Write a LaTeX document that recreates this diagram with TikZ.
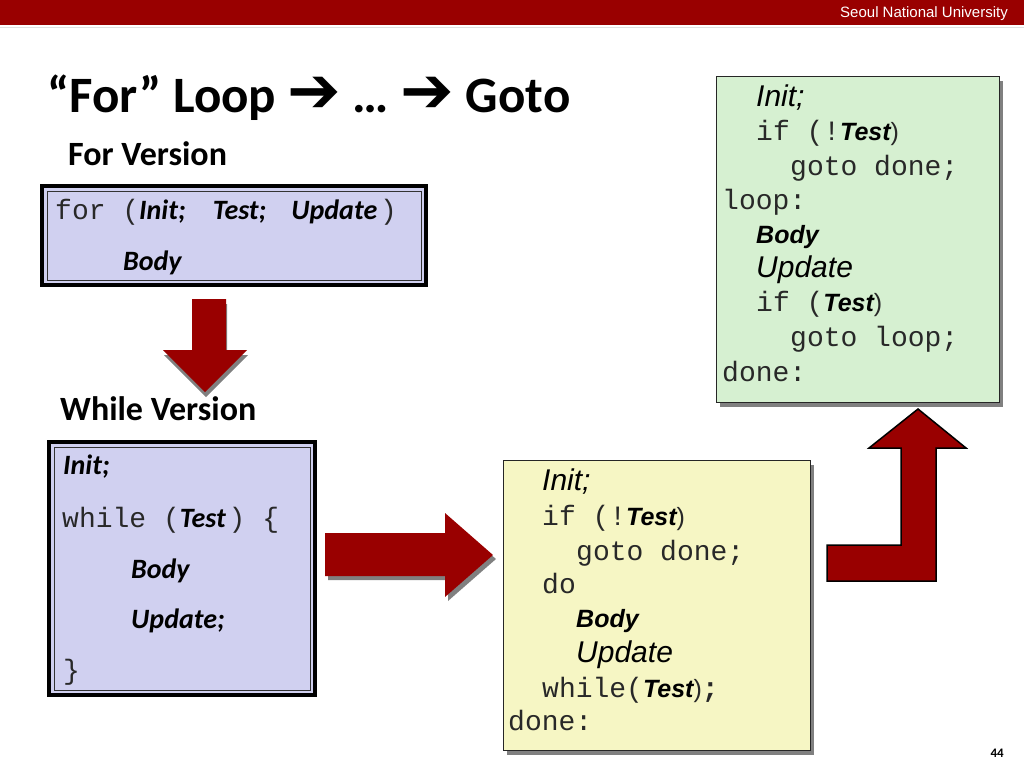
\documentclass[tikz,border=0pt]{standalone}
\usepackage{fontspec}
\setmainfont{Carlito}
\newfontfamily\codefont{Liberation Mono}
\newfontfamily\arialfont{Liberation Sans}
\newfontfamily\symfont{DejaVu Sans}
\usetikzlibrary{shadows}

\definecolor{snured}{RGB}{153,0,0}
\definecolor{lavender}{RGB}{208,208,240}
\definecolor{paleyellow}{RGB}{246,246,196}
\definecolor{palegreen}{RGB}{214,240,209}
\definecolor{shadowgray}{RGB}{128,128,128}
\definecolor{codegray}{RGB}{40,40,40}

% pieces of code text
\newcommand{\kb}[1]{{\rmfamily\bfseries\itshape\color{black}#1}}
\newcommand{\ai}[1]{{\arialfont\itshape\color{black}\fontsize{30}{32}\selectfont #1}}
\newcommand{\abi}[1]{{\arialfont\bfseries\itshape\color{black}\fontsize{25}{27}\selectfont #1}}
\newcommand{\ap}[1]{{\arialfont\fontsize{25}{27}\selectfont #1}}

\tikzset{
  codeline/.style={anchor=base west, inner sep=0pt, text=codegray, font=\codefont\fontsize{28}{30}\selectfont},
  heading/.style={anchor=base west, inner sep=0pt, font=\bfseries\fontsize{34}{36}\selectfont},
  dblbox/.style={draw, line width=4pt, fill=lavender, outer sep=0pt, anchor=north west},
  codebox/.style={draw=black!85, line width=1pt, outer sep=0pt, anchor=north west,
    drop shadow={shadow xshift=4pt, shadow yshift=-5pt, fill=shadowgray, opacity=1}},
  blockarrow/.style={fill=snured},
}

\begin{document}
\begin{tikzpicture}[x=1pt,y=-1pt]
\useasboundingbox (0,0) rectangle (1024,768);

% Header bar
\fill[snured] (0,0) rectangle (1024,25);
\draw[black!12] (0,27) -- (1024,27);
\node[anchor=base east, inner sep=0pt, text=white, font=\arialfont\fontsize{15}{16}\selectfont] (school) at (1008,18) {Seoul National University};

% Title
\node[anchor=base west, inner sep=0pt, font=\bfseries\fontsize{51}{54}\selectfont] (title) at (47,112)
  {“For” Loop {\symfont\bfseries\fontsize{64}{64}\selectfont ➔} … {\symfont\bfseries\fontsize{64}{64}\selectfont ➔} Goto};

% For version
\node[heading] (forver) at (68,165) {For Version};
\node[dblbox, minimum width=384pt, minimum height=99pt] (forbox) at (42,186) {};
\draw[line width=0.8pt, black!80] ([shift={(5,5)}]forbox.north west) rectangle ([shift={(-5,-5)}]forbox.south east);
\node[codeline] (forhead) at (55,219) {for (\kb{Init;}\hspace{27pt}\kb{Test;}\hspace{25pt}\kb{Update}\hspace{3pt})};
\node[codeline] (forbody) at (123,270) {\kb{Body}};

% Down arrow
\fill[blockarrow, drop shadow={shadow xshift=1pt, shadow yshift=-5pt, fill=shadowgray, opacity=1}]
  (192,299) -- (226,299) -- (226,350) -- (247,350) -- (205,392) -- (163,350) -- (192,350) -- cycle;

% While version
\node[heading] (whilever) at (60,420) {While Version};
\node[dblbox, minimum width=266pt, minimum height=253pt] (whilebox) at (49,442) {};
\draw[line width=0.8pt, black!80] ([shift={(5,5)}]whilebox.north west) rectangle ([shift={(-5,-5)}]whilebox.south east);
\node[codeline] (whinit) at (63,474) {\kb{Init;}};
\node[codeline] (whtest) at (62,527) {while (\kb{Test}\hspace{3pt}) \{};
\node[codeline] (whbody) at (131,578) {\kb{Body}};
\node[codeline] (whupd) at (131,628) {\kb{Update;}};
\node[codeline] (whend) at (63,679) {\}};

% Right arrow
\fill[blockarrow, drop shadow={shadow xshift=3pt, shadow yshift=-4pt, fill=shadowgray, opacity=1}]
  (325,533) -- (445,533) -- (445,513) -- (493,555) -- (445,597) -- (445,576) -- (325,576) -- cycle;

% Do-while with goto
\node[codebox, fill=paleyellow, minimum width=307pt, minimum height=290pt] (dobox) at (503,460) {};
\node[codeline] (yinit) at (542,490) {\ai{Init;}};
\node[codeline] (yif) at (542,525) {if (!\abi{Test}\ap{)}};
\node[codeline] (ygoto) at (576,560) {goto done;};
\node[codeline] (ydo) at (542,593) {do};
\node[codeline] (ybody) at (576,627) {\abi{Body}};
\node[codeline] (yupd) at (576,662) {\ai{Update}};
\node[codeline] (ywhile) at (542,697) {while(\abi{Test}\ap{)}\textbf{;}};
\node[codeline] (ydone) at (508,730) {done:};

% Bent arrow
\filldraw[fill=snured, draw=black, line width=1.5pt]
  (827,545) -- (901,545) -- (901,448) -- (869,448) -- (918,409) -- (966,448)
  -- (936,448) -- (936,581) -- (827,581) -- cycle;

% Goto version
\node[codebox, fill=palegreen, minimum width=283pt, minimum height=326pt] (gotobox) at (716,76) {};
\node[codeline] (ginit) at (756,106) {\ai{Init;}};
\node[codeline] (gif) at (756,140) {if (!\abi{Test}\ap{)}};
\node[codeline] (ggoto) at (790,175) {goto done;};
\node[codeline] (gloop) at (722,209) {loop:};
\node[codeline] (gbody) at (756,243) {\abi{Body}};
\node[codeline] (gupd) at (756,277) {\ai{Update}};
\node[codeline] (gif2) at (756,311) {if (\abi{Test}\ap{)}};
\node[codeline] (ggoto2) at (790,346) {goto loop;};
\node[codeline] (gdone) at (722,381) {done:};

% Page number
\node[anchor=base east, inner sep=0pt, font=\bfseries\fontsize{13}{14}\selectfont] (pagenum) at (1004,757) {44};
\end{tikzpicture}
\end{document}
